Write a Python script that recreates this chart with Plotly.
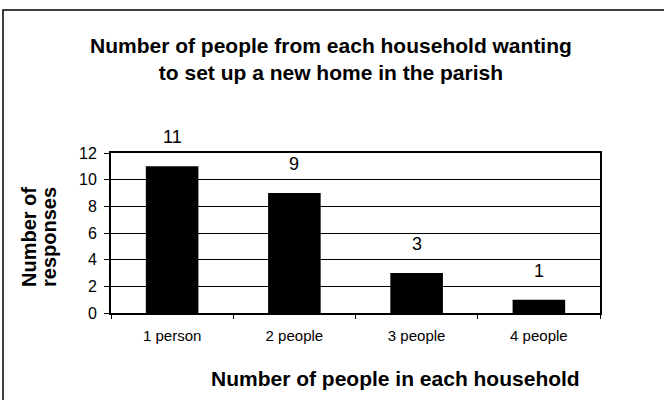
import plotly.graph_objects as go

categories = ["1 person", "2 people", "3 people", "4 people"]
responses = [11, 9, 3, 1]
y_ticks = [0, 2, 4, 6, 8, 10, 12]

W, H = 664, 400
L, R, T, B = 111, 64, 153, 87
pw, ph = W - L - R, H - T - B

def px(x):
    return (x - L) / pw

def py(y):
    return (H - B - y) / ph

FONT = "Liberation Sans, Arial, sans-serif"

fig = go.Figure()
fig.add_trace(go.Bar(
    x=categories, y=responses,
    marker=dict(color="black", line=dict(width=0)),
    width=0.43, hoverinfo="skip",
))

for c, v in zip(categories, responses):
    fig.add_annotation(x=c, y=v, text=str(v), showarrow=False, yanchor="bottom",
                       xanchor="center", yshift=17,
                       font=dict(family=FONT, size=18, color="black"))

fig.update_layout(
    width=W, height=H,
    margin=dict(l=L, r=R, t=T, b=B),
    paper_bgcolor="white", plot_bgcolor="white",
    showlegend=False,
    font=dict(family=FONT, color="black"),
    xaxis=dict(
        showline=True, linecolor="black", linewidth=2, mirror=True,
        ticks="outside", tickson="boundaries", ticklen=4, tickcolor="black",
        tickfont=dict(size=15), showgrid=False, ticklabelstandoff=8,
    ),
    yaxis=dict(
        range=[0, 12], tickvals=y_ticks, showline=True, linecolor="black", linewidth=2,
        mirror=True, ticks="outside", ticklen=5, tickcolor="black",
        tickfont=dict(size=16), showgrid=True, gridcolor="black", gridwidth=1,
        zeroline=False, ticklabelstandoff=4,
    ),
    shapes=[dict(type="rect", xref="paper", yref="paper",
                 x0=px(3), x1=px(672), y0=py(410), y1=py(10),
                 line=dict(color="black", width=1.5))],
)

fig.add_annotation(xref="paper", yref="paper", x=px(331), y=py(59),
                   xanchor="center", yanchor="middle",
                   text="<b>Number of people from each household wanting<br>to set up a new home in the parish</b>",
                   showarrow=False, font=dict(size=21), align="center")
fig.add_annotation(xref="paper", yref="paper", x=px(395), y=py(378),
                   xanchor="center", yanchor="middle",
                   text="<b>Number of people in each household</b>",
                   showarrow=False, font=dict(size=21))
fig.add_annotation(xref="paper", yref="paper", x=px(29), y=py(237),
                   xanchor="center", yanchor="middle",
                   text="<b>Number of</b>", textangle=-90,
                   showarrow=False, font=dict(size=20))
fig.add_annotation(xref="paper", yref="paper", x=px(49), y=py(237),
                   xanchor="center", yanchor="middle",
                   text="<b>responses</b>", textangle=-90,
                   showarrow=False, font=dict(size=20))

fig.write_html("out.html", config={"displayModeBar": False},
               post_script="document.body.style.margin='0';")
